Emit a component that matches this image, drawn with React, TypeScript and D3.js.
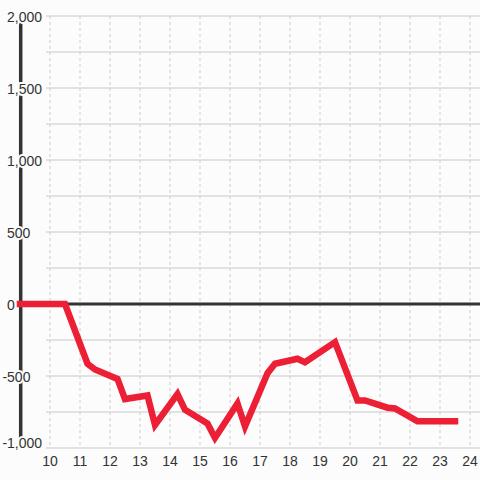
import React from "react";
import * as d3 from "d3";

const hours = [9, 10.5, 11.25, 11.5, 12.25, 12.5, 13.25, 13.5, 14.25, 14.5, 15.25, 15.5, 16.25, 16.5, 17.25, 17.5, 18.25, 18.5, 19.5, 20.25, 20.5, 21.25, 21.5, 22.25, 23.5];
const values = [0, 0, -415, -455, -520, -660, -635, -840, -625, -735, -830, -930, -690, -850, -480, -415, -380, -405, -265, -670, -670, -720, -725, -815, -815];
const xTicks = [10, 11, 12, 13, 14, 15, 16, 17, 18, 19, 20, 21, 22, 23, 24];
const yLabelTicks = [-1000, -500, 0, 500, 1000, 1500, 2000];
const yGridTicks = [-1000, -750, -500, -250, 250, 500, 750, 1000, 1250, 1500, 1750, 2000];

const W = 480;
const H = 480;
const BG = "#fbfcfb";

export default function App() {
  const x = d3.scaleLinear().domain([10, 24]).range([50, 470]);
  const y = d3.scaleLinear().domain([-1000, 2000]).range([448, 16]);
  const fmt = d3.formatLocale({ decimal: ".", thousands: ",", grouping: [3], currency: ["$", ""], minus: "-" }).format(",");
  const line = d3
    .line<number>()
    .x((_, i) => x(hours[i]))
    .y((v) => y(v));
  const font = "'Liberation Sans', Arial, sans-serif";
  return (
    <svg width={W} height={H} style={{ position: "absolute", left: 0, top: 0 }} fontFamily={font}>
      <rect x={0} y={0} width={W} height={H} fill={BG} />
      {yGridTicks.map((t) => (
        <line key={"hg" + t} x1={46} x2={480} y1={y(t)} y2={y(t)} stroke="#c8c8c8" strokeWidth={1} />
      ))}
      {xTicks.map((t) => (
        <line key={"vg" + t} x1={x(t)} x2={x(t)} y1={16} y2={448} stroke="#cccccc" strokeWidth={1} strokeDasharray="3,3" />
      ))}
      <line x1={18} x2={480} y1={y(0)} y2={y(0)} stroke="#333" strokeWidth={3} />
      <line x1={20.7} x2={20.7} y1={y(2000)} y2={y(-1000)} stroke="#333" strokeWidth={3.5} />
      <path d={line(values) || ""} fill="none" stroke="#ec1f35" strokeWidth={6.5} strokeLinecap="square" strokeLinejoin="miter" />
      {yLabelTicks.map((t) => (
        <text
          key={"yl" + t}
          x={t < 0 ? 2.4 : 7}
          y={y(t) + 5.5 - (t === -1000 ? 6 : 0)}
          fontSize={14}
          fill="#333"
          stroke={BG}
          strokeWidth={4}
          paintOrder="stroke"
          strokeLinejoin="round"
        >
          {fmt(t)}
        </text>
      ))}
      {xTicks.map((t) => (
        <text key={"xl" + t} x={x(t)} y={466} fontSize={14} fill="#333" textAnchor="middle">
          {t}
        </text>
      ))}
    </svg>
  );
}
